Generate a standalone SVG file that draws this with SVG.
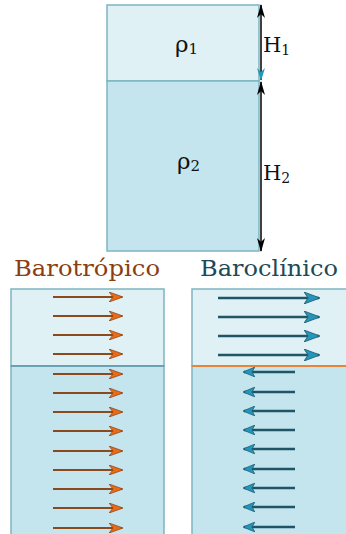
<svg xmlns="http://www.w3.org/2000/svg" width="346" height="534" viewBox="0 0 346 534">
<defs>
<style>
.top{fill:#e0f1f6;stroke:#7db4c2;stroke-width:1.5}
.bot{fill:#c4e5ee;stroke:#7db4c2;stroke-width:1.5}
.lbl{font-family:"DejaVu Serif",serif;fill:#111}
.bt{stroke:#8b4a1e;stroke-width:2}
.bc{stroke:#1f5566;stroke-width:2.5}
</style>
<marker id="ho" viewBox="0 0 14 10" refX="13" refY="5" markerWidth="14" markerHeight="10" markerUnits="userSpaceOnUse" orient="auto">
<path d="M0,0 L14,5 L0,10 L4,5 Z" fill="#ee6a12" stroke="#8b4a1e" stroke-width="0.8"/>
</marker>
<marker id="ht" viewBox="0 0 16 12" refX="15" refY="6" markerWidth="16" markerHeight="12" markerUnits="userSpaceOnUse" orient="auto">
<path d="M0,0 L16,6 L0,12 L4,6 Z" fill="#2596bb" stroke="#1f5566" stroke-width="0.8"/>
</marker>
<marker id="hs" viewBox="0 0 12 10" refX="11" refY="5" markerWidth="12" markerHeight="10" markerUnits="userSpaceOnUse" orient="auto">
<path d="M0,0 L12,5 L0,10 L3,5 Z" fill="#2596bb" stroke="#1f5566" stroke-width="0.7"/>
</marker>
<marker id="hk" viewBox="0 0 14 8" refX="13" refY="4" markerWidth="14" markerHeight="8" markerUnits="userSpaceOnUse" orient="auto-start-reverse">
<path d="M14,4 L0,0 L4,4 L0,8 Z" fill="#000"/>
</marker>
</defs>

<g id="layers-top">
<rect class="top" x="107" y="5" width="152" height="76"/>
<rect class="bot" x="107" y="81" width="152" height="170"/>
<text class="lbl" x="175" y="52" font-size="23">ρ<tspan font-size="15" dy="2">1</tspan></text>
<text class="lbl" x="177" y="169" font-size="23">ρ<tspan font-size="15" dy="2">2</tspan></text>
</g>

<g id="dimensions">
<line x1="261" y1="5" x2="261" y2="80" stroke="#000" stroke-width="1.5" marker-start="url(#hk)"/>
<path d="M261,81 L257,68 L261,72 L265,68 Z" fill="#1e9ab8"/>
<line x1="261" y1="82" x2="261" y2="251" stroke="#000" stroke-width="1.5" marker-start="url(#hk)" marker-end="url(#hk)"/>
<text class="lbl" x="263" y="52" font-size="21">H<tspan font-size="14" dy="3">1</tspan></text>
<text class="lbl" x="263" y="180" font-size="21">H<tspan font-size="14" dy="3">2</tspan></text>
</g>

<g id="barotropico">
<text x="14" y="276" font-size="22" textLength="146" lengthAdjust="spacingAndGlyphs" font-family="DejaVu Serif,serif" fill="#8b3e12">Barotrópico</text>
<rect class="top" x="11" y="289" width="153" height="77"/>
<path d="M11,534 V366 H164 V534" class="bot"/>
<line x1="11" y1="366" x2="164" y2="366" stroke="#5e9aab" stroke-width="1.5"/>
</g>

<g id="baroclinico">
<text x="200" y="276" font-size="22" textLength="138" lengthAdjust="spacingAndGlyphs" font-family="DejaVu Serif,serif" fill="#1c4a58">Baroclínico</text>
<rect class="top" x="192" y="289" width="160" height="77"/>
<path d="M192,534 V366 H352 V534" class="bot"/>
<line x1="192" y1="366" x2="346" y2="366" stroke="#e8833a" stroke-width="2"/>
</g>

<g id="connectors">
<g class="bt" marker-end="url(#ho)">
<line x1="53" y1="297" x2="122" y2="297"/>
<line x1="53" y1="316" x2="122" y2="316"/>
<line x1="53" y1="335" x2="122" y2="335"/>
<line x1="53" y1="354" x2="122" y2="354"/>
<line x1="53" y1="374" x2="122" y2="374"/>
<line x1="53" y1="393" x2="122" y2="393"/>
<line x1="53" y1="412" x2="122" y2="412"/>
<line x1="53" y1="431" x2="122" y2="431"/>
<line x1="53" y1="451" x2="122" y2="451"/>
<line x1="53" y1="470" x2="122" y2="470"/>
<line x1="53" y1="489" x2="122" y2="489"/>
<line x1="53" y1="508" x2="122" y2="508"/>
<line x1="53" y1="528" x2="122" y2="528"/>
</g>
<g class="bc" marker-end="url(#ht)">
<line x1="218" y1="298" x2="319" y2="298"/>
<line x1="218" y1="317" x2="319" y2="317"/>
<line x1="218" y1="336" x2="319" y2="336"/>
<line x1="218" y1="355" x2="319" y2="355"/>
</g>
<g class="bc" stroke-width="2" marker-end="url(#hs)">
<line x1="295" y1="372" x2="244" y2="372"/>
<line x1="295" y1="392" x2="244" y2="392"/>
<line x1="295" y1="411" x2="244" y2="411"/>
<line x1="295" y1="430" x2="244" y2="430"/>
<line x1="295" y1="449" x2="244" y2="449"/>
<line x1="295" y1="469" x2="244" y2="469"/>
<line x1="295" y1="488" x2="244" y2="488"/>
<line x1="295" y1="507" x2="244" y2="507"/>
<line x1="295" y1="527" x2="244" y2="527"/>
</g>
</g>
</svg>
